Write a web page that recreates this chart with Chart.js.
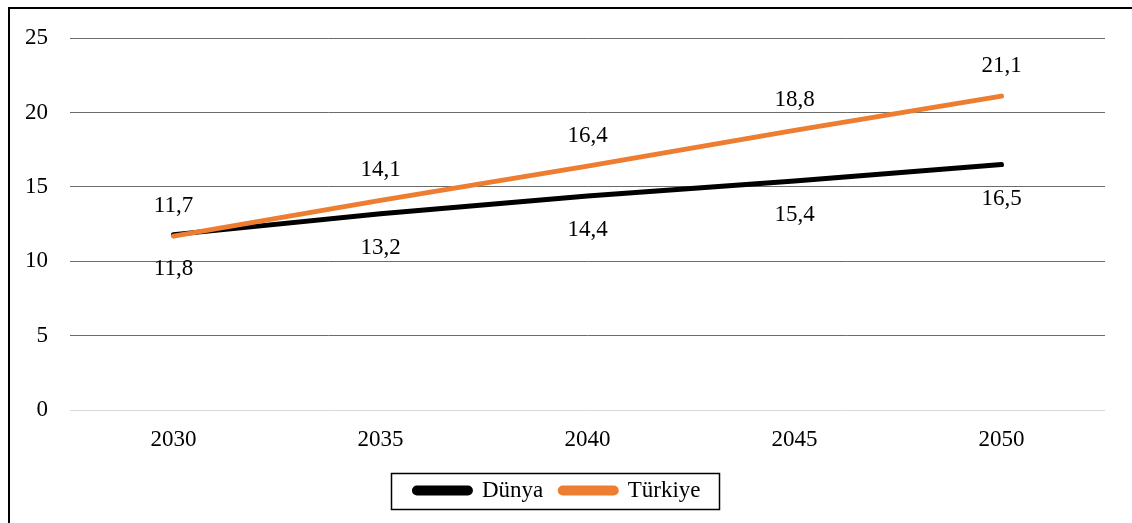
<!DOCTYPE html>
<html>
<head>
<meta charset="utf-8">
<script src="https://cdn.jsdelivr.net/npm/chart.js@4"></script>
<style>
    body {
        margin: 0;
        background: #fff;
    }
    #frame {
        position: absolute;
        left: 8px;
        top: 7px;
        width: 1124px;
        height: 516px;
        border-left: 2px solid #000;
        border-top: 2px solid #000;
        box-sizing: border-box;
    }
    #lineChart {
        display: block;
    }
</style>
</head>
<body>
<div id="frame">
    <canvas id="lineChart" width="1122" height="514"></canvas>
</div>
<script>
// Years on the x axis and values for each series
const years = ["2030", "2035", "2040", "2045", "2050"];
const dunyaValues = [11.8, 13.2, 14.4, 15.4, 16.5];
const turkiyeValues = [11.7, 14.1, 16.4, 18.8, 21.1];
const yTicks = [0, 5, 10, 15, 20, 25];

const fontFamily = "'Liberation Serif', 'Times New Roman', serif";
const fontSize = 23;

// Write each point's value next to it, above or below depending on the dataset
const valueLabels = {
    id: "valueLabels",
    afterDatasetsDraw(chart) {
        const ctx = chart.ctx;
        ctx.save();
        ctx.font = fontSize + "px " + fontFamily;
        ctx.fillStyle = "#000";
        ctx.textAlign = "center";
        ctx.textBaseline = "middle";
        chart.data.datasets.forEach((ds, i) => {
            const meta = chart.getDatasetMeta(i);
            meta.data.forEach((pt, j) => {
                const text = ds.data[j].toFixed(1).replace(".", ",");
                const dy = ds.labelSide === "below" ? 34 : -30;
                ctx.fillText(text, pt.x, pt.y + dy);
            });
        });
        ctx.restore();
    }
};

// Thin border round the legend items
const legendBox = {
    id: "legendBox",
    afterDraw(chart) {
        const lg = chart.legend;
        if (!lg || !lg.legendHitBoxes.length) return;
        const boxes = lg.legendHitBoxes;
        const left = Math.min(...boxes.map(b => b.left)) - 23;
        const right = Math.max(...boxes.map(b => b.left + b.width)) + 19;
        const mid = boxes[0].top + boxes[0].height / 2;
        const ctx = chart.ctx;
        ctx.save();
        ctx.strokeStyle = "#000";
        ctx.lineWidth = 1.5;
        ctx.strokeRect(Math.round(left) + 0.5, Math.round(mid - 18) + 0.5, Math.round(right - left), 36);
        ctx.restore();
    }
};

const ctx = document.getElementById("lineChart").getContext("2d");

new Chart(ctx, {
    type: "line",
    data: {
        labels: years,
        datasets: [
            {
                label: "Dünya",
                data: dunyaValues,
                borderColor: "#000000",
                backgroundColor: "#000000",
                borderWidth: 5,
                borderCapStyle: "round",
                pointRadius: 0,
                labelSide: "below",
                order: 2
            },
            {
                label: "Türkiye",
                data: turkiyeValues,
                borderColor: "#ED7D31",
                backgroundColor: "#ED7D31",
                borderWidth: 5,
                borderCapStyle: "round",
                pointRadius: 0,
                labelSide: "above",
                order: 1
            }
        ]
    },
    options: {
        responsive: false,
        animation: false,
        layout: {
            padding: { top: 29, right: 27, left: 0, bottom: 11 }
        },
        scales: {
            x: {
                offset: true,
                grid: { display: false },
                border: { display: false },
                ticks: {
                    color: "#000",
                    padding: 8,
                    font: { family: fontFamily, size: fontSize }
                }
            },
            y: {
                min: 0,
                max: 25,
                afterBuildTicks: scale => {
                    scale.ticks = yTicks.map(v => ({ value: v }));
                },
                afterFit: scale => {
                    scale.width = 60;
                    scale.paddingTop = 0;
                    scale.paddingBottom = 0;
                },
                border: { display: false },
                grid: {
                    drawTicks: false,
                    lineWidth: 1,
                    color: c => c.tick.value === 0 ? "#d9d9d9" : "#6b6b6b"
                },
                ticks: {
                    color: "#000",
                    padding: 22,
                    font: { family: fontFamily, size: fontSize }
                }
            }
        },
        plugins: {
            legend: {
                position: "bottom",
                labels: {
                    color: "#000",
                    boxWidth: 56,
                    boxHeight: 5,
                    useBorderRadius: true,
                    borderRadius: 2.5,
                    padding: 17,
                    font: { family: fontFamily, size: fontSize },
                    sort: (a, b) => a.datasetIndex - b.datasetIndex
                }
            },
            tooltip: { enabled: false }
        }
    },
    plugins: [valueLabels, legendBox]
});
</script>
</body>
</html>
